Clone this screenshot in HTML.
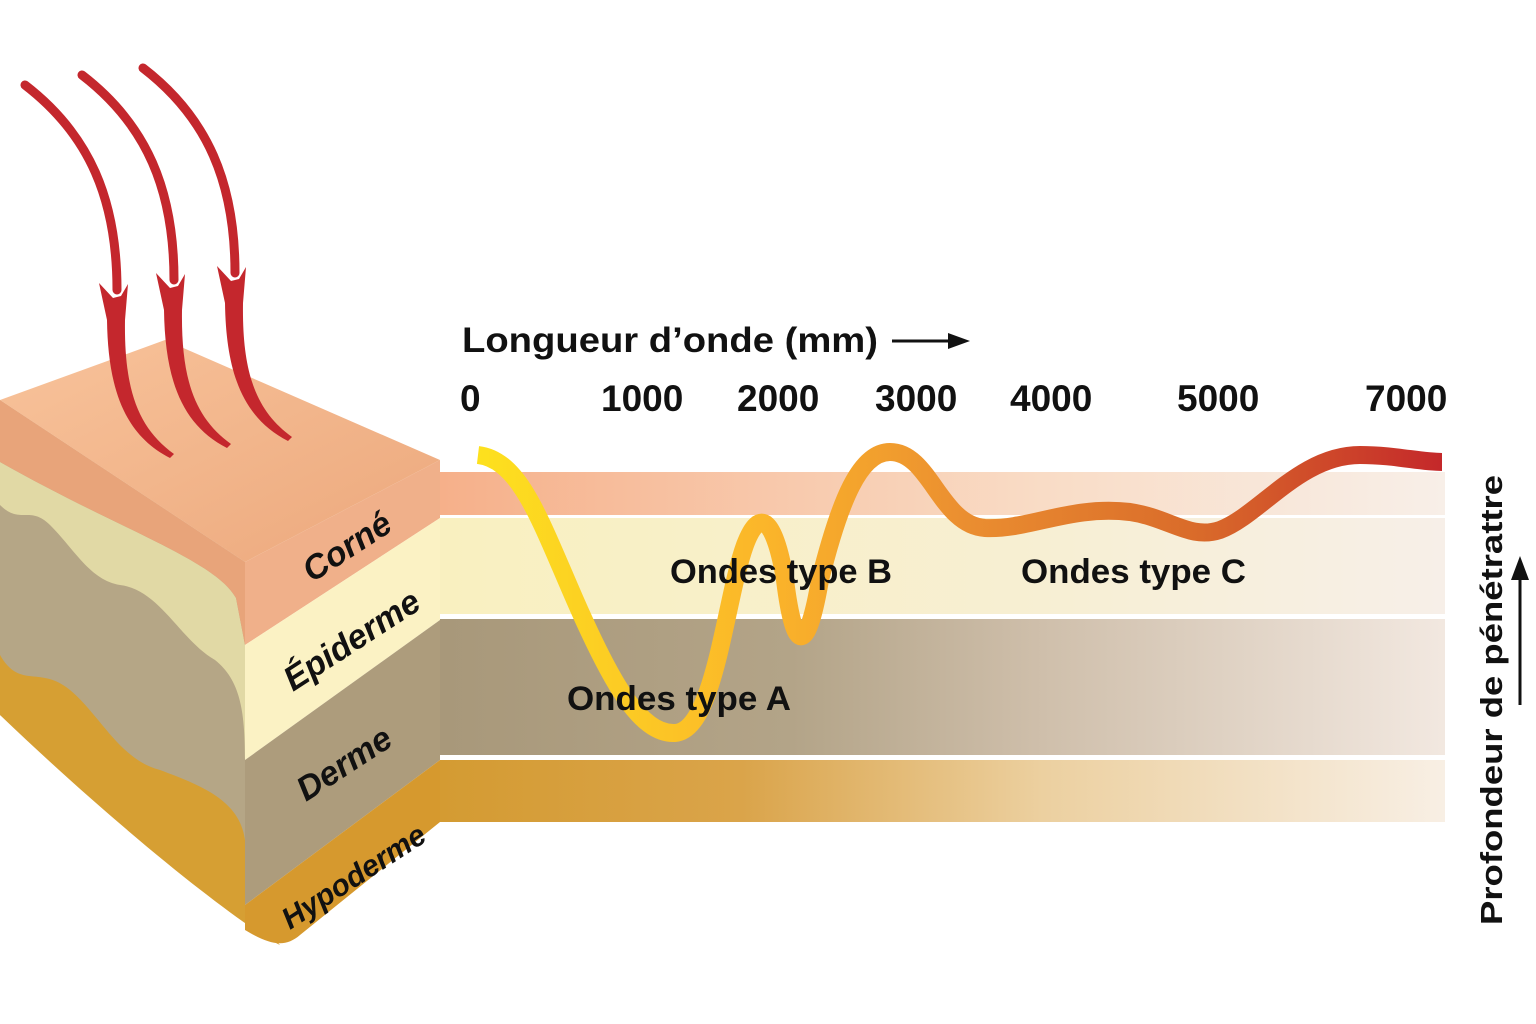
<!DOCTYPE html>
<html><head><meta charset="utf-8"><style>
html,body{margin:0;padding:0;background:#fff}
svg{display:block}
text{font-family:"Liberation Sans",sans-serif;font-weight:bold;fill:#111}
</style></head><body>
<svg width="1536" height="1024" viewBox="0 0 1536 1024">
<defs>
<linearGradient id="gC" x1="0" x2="1"><stop offset="0" stop-color="#f6b08a"/><stop offset="0.6" stop-color="#f9dcc6"/><stop offset="1" stop-color="#f8efe8"/></linearGradient>
<linearGradient id="gE" x1="0" x2="1"><stop offset="0" stop-color="#f9f0c0"/><stop offset="0.6" stop-color="#f7efd3"/><stop offset="1" stop-color="#f7efe8"/></linearGradient>
<linearGradient id="gD" x1="0" x2="1"><stop offset="0" stop-color="#a8987a"/><stop offset="0.35" stop-color="#b3a488"/><stop offset="0.6" stop-color="#cfbfab"/><stop offset="1" stop-color="#f2e8e0"/></linearGradient>
<linearGradient id="gH" x1="0" x2="1"><stop offset="0" stop-color="#d49b32"/><stop offset="0.3" stop-color="#daa44a"/><stop offset="0.6" stop-color="#ecd0a0"/><stop offset="1" stop-color="#f8efe4"/></linearGradient>
<linearGradient id="gW" x1="478" x2="1442" gradientUnits="userSpaceOnUse"><stop offset="0" stop-color="#fde11e"/><stop offset="0.3" stop-color="#fbb52a"/><stop offset="0.5" stop-color="#eb8f30"/><stop offset="0.75" stop-color="#d96a2a"/><stop offset="1" stop-color="#c4282a"/></linearGradient>
<linearGradient id="gTop" x1="0" y1="0" x2="1" y2="1"><stop offset="0" stop-color="#f8c39b"/><stop offset="1" stop-color="#eca87c"/></linearGradient>
<g id="arr">
<path d="M25,85 C90,135 117,200 117,290" fill="none" stroke="#c4272d" stroke-width="9" stroke-linecap="round"/>
<path d="M99,283 L113,298 L121,296 L128,284 L125,320 C124,390 138,428 174,454 L170,458 C125,435 108,390 107,320 Z" fill="#c4272d"/>
</g>
</defs>
<!-- bands -->
<rect x="440" y="472" width="1005" height="43" fill="url(#gC)"/>
<rect x="440" y="518" width="1005" height="96" fill="url(#gE)"/>
<rect x="440" y="619" width="1005" height="136" fill="url(#gD)"/>
<rect x="440" y="760" width="1005" height="62" fill="url(#gH)"/>
<!-- block left face -->
<path d="M0,400 L245,562 L245,905 L0,715 Z" fill="#b5a686"/>
<path d="M0,655 C20,690 40,665 70,690 C100,715 120,760 160,770 C200,785 240,800 245,840 L245,905 L280,945 C240,925 120,830 0,715 Z" fill="#d69f33"/>
<path d="M0,462 C120,530 215,560 236,598 L245,645 L245,760 C245,710 240,680 215,660 C180,640 160,590 120,585 C90,580 75,550 50,525 C30,505 20,525 0,505 Z" fill="#e1d9a5"/>
<path d="M0,400 L245,562 L245,645 L236,598 C215,560 120,530 0,462 Z" fill="#e8a47a"/>
<!-- right face -->
<path d="M245,562 L440,460 L440,518 L245,645 Z" fill="#f0b08a"/>
<path d="M245,645 L440,518 L440,620 L245,760 Z" fill="#fbf2c4"/>
<path d="M245,760 L440,620 L440,760 L245,905 Z" fill="#ad9c7c"/>
<path d="M245,905 L440,760 L440,822 L300,935 C285,948 270,945 245,930 Z" fill="#d6992e"/>
<!-- top face -->
<path d="M0,400 L165,340 L440,460 L245,562 Z" fill="url(#gTop)"/>
<!-- block labels -->
<text transform="translate(312,583) rotate(-33)" font-size="34" font-style="italic">Corné</text>
<text transform="translate(293,692) rotate(-33)" font-size="34" font-style="italic">Épiderme</text>
<text transform="translate(306,802) rotate(-33)" font-size="34" font-style="italic">Derme</text>
<text transform="translate(290,930) rotate(-33)" font-size="30" font-style="italic">Hypoderme</text>
<!-- red arrows -->
<use href="#arr"/>
<use href="#arr" transform="translate(57,-10)"/>
<use href="#arr" transform="translate(118,-17)"/>
<!-- wave -->
<path d="M478,455 C520,460 540,520 575,600 C610,680 640,735 675,733 C715,730 725,600 745,545 C760,505 775,520 785,580 C795,660 808,650 820,580 C840,500 860,452 890,452 C930,452 940,525 985,528 C1030,530 1070,505 1130,512 C1170,518 1190,540 1220,530 C1260,515 1300,455 1360,455 C1395,455 1420,462 1442,462" fill="none" stroke="url(#gW)" stroke-width="18"/>
<!-- axis -->
<text x="462" y="352" font-size="35" textLength="416" lengthAdjust="spacingAndGlyphs">Longueur d’onde (mm)</text>
<line x1="892" y1="341" x2="955" y2="341" stroke="#111" stroke-width="3"/>
<path d="M970,341 L948,333 L948,349 Z" fill="#111"/>
<g font-size="37">
<text x="460" y="411">0</text>
<text x="601" y="411">1000</text>
<text x="737" y="411">2000</text>
<text x="875" y="411">3000</text>
<text x="1010" y="411">4000</text>
<text x="1177" y="411">5000</text>
<text x="1365" y="411">7000</text>
</g>
<g font-size="34">
<text x="670" y="583" textLength="222" lengthAdjust="spacingAndGlyphs">Ondes type B</text>
<text x="1021" y="583" textLength="225" lengthAdjust="spacingAndGlyphs">Ondes type C</text>
<text x="567" y="710" textLength="224" lengthAdjust="spacingAndGlyphs">Ondes type A</text>
</g>
<text transform="translate(1502,925) rotate(-90)" font-size="31" textLength="450" lengthAdjust="spacingAndGlyphs">Profondeur de pénétrattre</text>
<line x1="1520" y1="705" x2="1520" y2="575" stroke="#111" stroke-width="3"/>
<path d="M1520,556 L1511,580 L1529,580 Z" fill="#111"/>
</svg>
</body></html>
